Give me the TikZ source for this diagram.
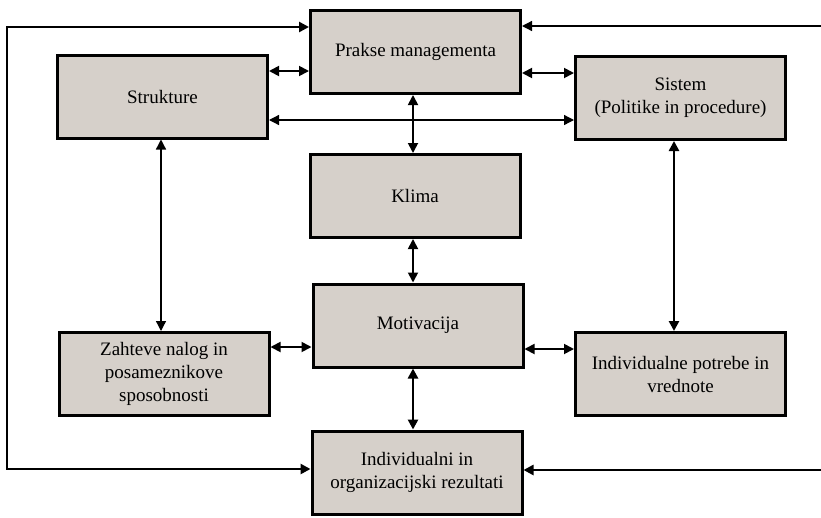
\documentclass[tikz,border=0pt]{standalone}
\usepackage{fontspec}
\setmainfont{Liberation Serif}
\usetikzlibrary{arrows.meta}
\definecolor{boxfill}{RGB}{214,208,202}
\begin{document}
\begin{tikzpicture}[x=1pt,y=-1pt,
  block/.style={draw=black, line width=3pt, fill=boxfill,
    minimum width=210pt, minimum height=83pt, align=center, inner sep=2pt,
    font=\fontsize{19}{23}\selectfont},
  tip/.tip={Triangle[length=10pt,width=10pt]},
  wire/.style={line width=1.8pt},
  wirethin/.style={line width=1.3pt},
  wirethick/.style={line width=2.5pt},
  both/.style={tip-tip},
  into/.style={-tip}]
\useasboundingbox (0,0) rectangle (821,517);

% boxes
\node[block] (prakse)    at (415.5,52)  {Prakse managementa};
\node[block] (strukture) at (162.5,96.5) {Strukture};
\node[block] (sistem)    at (680.5,98)  {Sistem\\(Politike in procedure)};
\node[block] (klima)     at (415,196)   {Klima};
\node[block] (motiv)     at (418,325.5) {Motivacija};
\node[block] (zahteve)   at (164,374)   {Zahteve nalog in\\posameznikove\\sposobnosti};
\node[block] (potrebe)   at (680.5,374) {Individualne potrebe in\\vrednote};
\node[block] (rezultati) at (417,472.5) {Individualni in\\organizacijski rezultati};

% connector levels and columns
\coordinate (h71)  at (0,71);
\coordinate (h73)  at (0,73);
\coordinate (h120) at (0,120);
\coordinate (h347) at (0,347);
\coordinate (h349) at (0,349);
\coordinate (h27)  at (0,27);
\coordinate (h469) at (0,469);
\coordinate (v413) at (413,0);
\coordinate (v161) at (161,0);
\coordinate (v674) at (674,0);
\coordinate (loopL) at (7,0);
\coordinate (edgeTop) at (821,26);
\coordinate (edgeBot) at (821,470);

% horizontal links
\draw[wirethin, both] (strukture.east |- h120) -- (sistem.west |- h120);
\draw[wire, both] (strukture.east |- h71) -- (prakse.west |- h71);
\draw[wire, both] (prakse.east |- h73) -- (sistem.west |- h73);
\draw[wire, both] (zahteve.east |- h347) -- (motiv.west |- h347);
\draw[wire, both] (motiv.east |- h349) -- (potrebe.west |- h349);

% vertical links
\draw[wire, both] (prakse.south -| v413) -- (klima.north -| v413);
\draw[wire, both] (klima.south -| v413) -- (motiv.north -| v413);
\draw[wirethick, both] (motiv.south -| v413) -- (rezultati.north -| v413);
\draw[wirethin, both] (strukture.south -| v161) -- (zahteve.north -| v161);
\draw[wirethick, both] (sistem.south -| v674) -- (potrebe.north -| v674);

% feedback loops
\draw[wirethick, both] (prakse.west |- h27) -- (loopL |- h27) -- (loopL |- h469) -- (rezultati.west |- h469);
\draw[wirethin, into] (edgeTop) -- (prakse.east |- edgeTop);
\draw[wirethick, into] (edgeBot) -- (rezultati.east |- edgeBot);
\end{tikzpicture}
\end{document}
